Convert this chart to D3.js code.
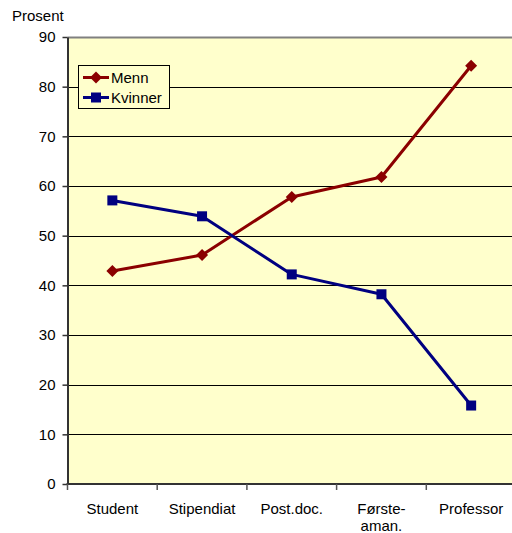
<!DOCTYPE html>
<html>
<head>
<meta charset="utf-8">
<script src="https://cdn.jsdelivr.net/npm/d3@7"></script>
<style>
  html, body { margin: 0; padding: 0; background: #fff; }
  svg { display: block; font-family: Arial, "Liberation Sans", sans-serif; }
</style>
</head>
<body>
<script>
// Andel menn og kvinner per stillingsnivå (prosent)
const categories = ["Student", "Stipendiat", "Post.doc.", "Første-\naman.", "Professor"];
const menn = [42.9, 46.1, 57.8, 61.8, 84.2];
const kvinner = [57.1, 53.9, 42.2, 38.2, 15.8];
const yTicks = [0, 10, 20, 30, 40, 50, 60, 70, 80, 90];

const W = 512, H = 533;
const plot = { left: 67.5, right: 516, top: 37, bottom: 484 };

const svg = d3.select("body").append("svg")
  .attr("width", W).attr("height", H)
  .style("overflow", "hidden");

const x = d3.scaleBand().domain(categories).range([plot.left, plot.right]).padding(0);
const y = d3.scaleLinear().domain([0, 90]).range([plot.bottom, plot.top]);

// plot background
svg.append("rect")
  .attr("x", plot.left).attr("y", plot.top)
  .attr("width", plot.right - plot.left).attr("height", plot.bottom - plot.top)
  .attr("fill", "#FFFFCC");

// horizontal gridlines
svg.append("g").selectAll("line")
  .data(yTicks.filter(d => d > 0 && d < 90))
  .join("line")
  .attr("x1", plot.left).attr("x2", plot.right)
  .attr("y1", d => Math.round(y(d)) + 0.5).attr("y2", d => Math.round(y(d)) + 0.5)
  .attr("stroke", "#000").attr("stroke-width", 1);

// top border of the plot
svg.append("line")
  .attr("x1", plot.left).attr("x2", plot.right)
  .attr("y1", Math.round(y(90)) + 0.5).attr("y2", Math.round(y(90)) + 0.5)
  .attr("stroke", "#808080").attr("stroke-width", 2);

// y axis
const yAxis = d3.axisLeft(y).tickValues(yTicks).tickSize(5).tickPadding(7).tickSizeOuter(0);
const gy = svg.append("g").attr("transform", `translate(${plot.left},0)`).call(yAxis);
gy.select(".domain").attr("stroke", "#333").attr("stroke-width", 2);
gy.selectAll(".tick line").attr("stroke", "#333").attr("stroke-width", 1.5);
gy.selectAll(".tick text").attr("font-size", 15).attr("fill", "#000")
  .attr("font-family", "Arial, 'Liberation Sans', sans-serif");

// x axis: ticks at category boundaries
const gx = svg.append("g");
gx.append("line")
  .attr("x1", plot.left - 1).attr("x2", plot.right)
  .attr("y1", plot.bottom).attr("y2", plot.bottom)
  .attr("stroke", "#333").attr("stroke-width", 2);
gx.selectAll("line.tick")
  .data(categories)
  .join("line").attr("class", "tick")
  .attr("x1", d => x(d)).attr("x2", d => x(d))
  .attr("y1", plot.bottom).attr("y2", plot.bottom + 6)
  .attr("stroke", "#555").attr("stroke-width", 1.5);

const xl = gx.selectAll("text.lbl")
  .data(categories)
  .join("text").attr("class", "lbl")
  .attr("x", d => x(d) + x.bandwidth() / 2)
  .attr("y", 514)
  .attr("text-anchor", "middle")
  .attr("font-size", 15)
  .attr("fill", "#000");
xl.each(function(d) {
  const parts = d.split("\n");
  const t = d3.select(this);
  parts.forEach((p, i) => {
    t.append("tspan").attr("x", x(d) + x.bandwidth() / 2).attr("dy", i === 0 ? 0 : 17).text(p);
  });
});

// axis title
svg.append("text")
  .attr("x", 12).attr("y", 21)
  .attr("font-size", 15).attr("fill", "#000")
  .text("Prosent");

// series
const series = [
  { name: "Menn", values: menn, color: "#8B0000", marker: "diamond" },
  { name: "Kvinner", values: kvinner, color: "#000080", marker: "square" }
];

const line = d3.line()
  .x((d, i) => x(categories[i]) + x.bandwidth() / 2)
  .y(d => y(d));

function drawMarker(g, type, cx, cy, color) {
  if (type === "square") {
    g.append("rect")
      .attr("x", cx - 5).attr("y", cy - 5)
      .attr("width", 10).attr("height", 10)
      .attr("fill", color);
  } else {
    const s = 6;
    g.append("path")
      .attr("d", `M${cx},${cy - s}L${cx + s},${cy}L${cx},${cy + s}L${cx - s},${cy}Z`)
      .attr("fill", color);
  }
}

series.forEach(s => {
  const g = svg.append("g");
  g.append("path")
    .datum(s.values)
    .attr("d", line)
    .attr("fill", "none")
    .attr("stroke", s.color)
    .attr("stroke-width", 3)
    .attr("stroke-linejoin", "round");
  s.values.forEach((v, i) => {
    drawMarker(g, s.marker, x(categories[i]) + x.bandwidth() / 2, y(v), s.color);
  });
});

// legend
const lg = svg.append("g");
lg.append("rect")
  .attr("x", 78.5).attr("y", 65.5)
  .attr("width", 91).attr("height", 43)
  .attr("fill", "#FFFFCC").attr("stroke", "#000").attr("stroke-width", 1);
series.forEach((s, i) => {
  const cy = 77.5 + i * 20;
  lg.append("line")
    .attr("x1", 83).attr("x2", 109)
    .attr("y1", cy).attr("y2", cy)
    .attr("stroke", s.color).attr("stroke-width", 3);
  drawMarker(lg, s.marker, 96, cy, s.color);
  lg.append("text")
    .attr("x", 111).attr("y", cy + 5.5)
    .attr("font-size", 15).attr("fill", "#000")
    .text(s.name);
});
</script>
</body>
</html>
